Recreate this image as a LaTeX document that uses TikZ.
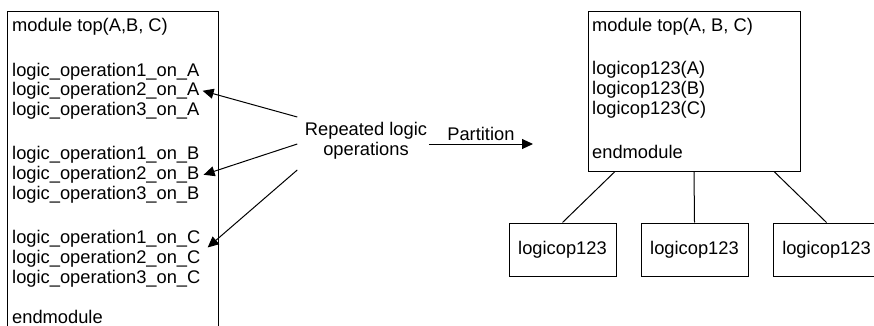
\documentclass[tikz,border=0pt]{standalone}
\usepackage{fontspec}
\setmainfont{Liberation Sans}
\usepackage{tikz}
\usetikzlibrary{
    arrows.meta,
    positioning,
    calc
}
\newcommand{\codefont}{\fontsize{18.3}{20}\selectfont}
\tikzset{
    codeline/.style={
        anchor=base west,
        inner sep=0pt,
        font=\codefont
    },
    modbox/.style={
        draw,
        line width=1pt,
        rectangle
    },
    subbox/.style={
        draw,
        line width=1pt,
        rectangle,
        minimum width=107pt,
        minimum height=53pt,
        font=\codefont
    },
    connector/.style={
        line width=1pt
    },
    pointer/.style={
        line width=1pt,
        -{Triangle[length=11pt,width=10pt]}
    }
}

\begin{document}
\begin{tikzpicture}[x=1pt,y=-1pt]
%
    \useasboundingbox
    (0,0)
    rectangle
    (874,326);
    \clip
    (0,0)
    rectangle
    (874,326);
%
    % original module
    \node[
        modbox,
        minimum width=211pt,
        minimum height=330pt
    ]
    (lbox) at (112.5,177) {};
%
    \node[codeline] (ltop) at (12,31.5) {module top(A,B, C)};
    \node[codeline] (a1) at (12,76.5) {logic\_operation1\_on\_A};
    \node[codeline] (a2) at (12,95.5) {logic\_operation2\_on\_A};
    \node[codeline] (a3) at (12,115.5) {logic\_operation3\_on\_A};
    \node[codeline] (b1) at (12,159.5) {logic\_operation1\_on\_B};
    \node[codeline] (b2) at (12,179.5) {logic\_operation2\_on\_B};
    \node[codeline] (b3) at (12,199.5) {logic\_operation3\_on\_B};
    \node[codeline] (c1) at (12,243.5) {logic\_operation1\_on\_C};
    \node[codeline] (c2) at (12,263.5) {logic\_operation2\_on\_C};
    \node[codeline] (c3) at (12,283.5) {logic\_operation3\_on\_C};
    \node[codeline] (lend) at (12,323.5) {endmodule};
%
    \node[
        align=center,
        inner sep=0pt,
        font=\codefont
    ]
    (rep) at (366,141) {
        Repeated logic\\operations
    };
%
    \draw[pointer]
    ([xshift=-7.5pt,yshift=24pt]rep.west)
    --
    ([xshift=3pt]a2.east);
    \draw[pointer]
    ([xshift=-7.5pt,yshift=-3pt]rep.west)
    --
    ([xshift=4pt]b2.east);
    \draw[pointer]
    ([xshift=-7.5pt,yshift=-29pt]rep.west)
    --
    ([xshift=7pt]c1.south east);
%
    % partitioned module
    \node[
        modbox,
        minimum width=212pt,
        minimum height=159pt
    ]
    (rbox) at (694,91.5) {};
%
    \node[codeline] (rtop) at (592,31.5) {module top(A, B, C)};
    \node[codeline] (ra) at (592,74.5) {logicop123(A)};
    \node[codeline] (rb) at (592,94.5) {logicop123(B)};
    \node[codeline] (rc) at (592,114.5) {logicop123(C)};
    \node[codeline] (rend) at (592,158.5) {endmodule};
%
    \coordinate (partend) at (533,144);
    \draw[pointer]
    ([xshift=1.5pt,yshift=-3pt]rep.east)
    --
    (partend)
    node[
        midway,
        above=3pt,
        font=\codefont,
        inner sep=0pt
    ]
    (partlabel) {
        Partition
    };
%
    \node[subbox] (sub1) at (562.5,249.5) {logicop123};
    \node[subbox] (sub2) at (694.5,249.5) {logicop123};
    \node[subbox] (sub3) at (826.5,249.5) {logicop123};
%
    \draw[connector]
    ([xshift=-79pt]rbox.south)
    --
    (sub1.north);
    \draw[connector]
    (rbox.south)
    --
    (sub2.north);
    \draw[connector]
    ([xshift=80pt]rbox.south)
    --
    (sub3.north);
%
\end{tikzpicture}
\end{document}
